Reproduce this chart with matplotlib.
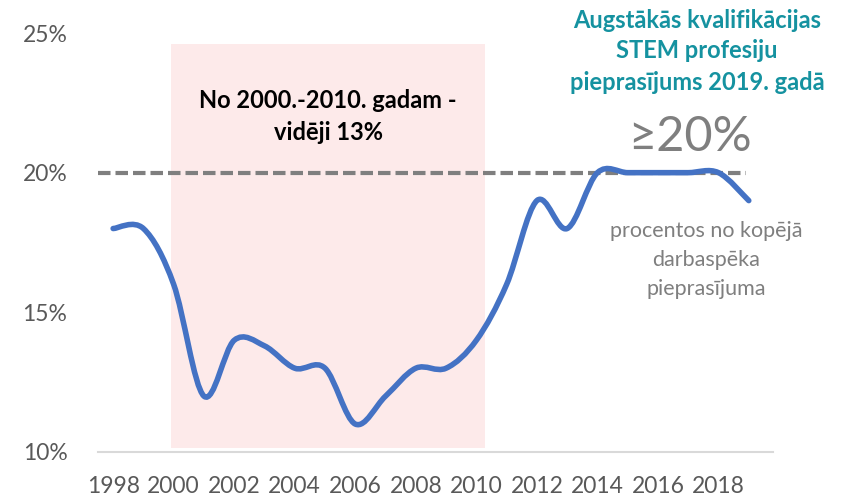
import numpy as np
import matplotlib.pyplot as plt
from matplotlib.path import Path
from matplotlib.patches import PathPatch, Rectangle

plt.rcParams['font.family'] = ['Lato', 'DejaVu Sans']

# dati
years = np.arange(1998, 2020)
share = np.array([18, 18, 16, 12, 14, 13.8, 13, 13, 11, 12, 13,
                  13, 14, 16, 19, 18, 20, 20, 20, 20, 20, 19])
ytick_vals = [10, 15, 20, 25]
ytick_labels = ['10%', '15%', '20%', '25%']
xtick_vals = list(range(1998, 2019, 2))
title_lines = ['Augstākās kvalifikācijas', 'STEM profesiju', 'pieprasījums 2019. gadā']
note_lines = ['procentos no kopējā', 'darbaspēka', 'pieprasījuma']

W, H = 848, 500
fig = plt.figure(figsize=(W / 100, H / 100), dpi=100)
ax = fig.add_axes([98 / W, 48 / H, (773 - 98) / W, (467 - 48) / H])
ax.set_xlim(1997.5, 2019.8)
ax.set_ylim(10, 25)

# fona taisnstūris 2000-2010
ax.add_patch(Rectangle((1999.9, 10.15), 10.4, 14.45, facecolor='#fdeaea',
                       edgecolor='none', zorder=0))

# 20% līnija
ax.plot([1997.5, 2018.9], [20, 20], color='#7f7f7f', lw=3,
        dashes=(3, 1.2), zorder=2, solid_capstyle='butt')

# gludināta līnija (Bezier kā Excel)
pts = np.column_stack([years, share]).astype(float)
verts = [pts[0]]
codes = [Path.MOVETO]
n = len(pts)
for i in range(n - 1):
    p0 = pts[max(i - 1, 0)]
    p1 = pts[i]
    p2 = pts[i + 1]
    p3 = pts[min(i + 2, n - 1)]
    c1 = p1 + (p2 - p0) / 6
    c2 = p2 - (p3 - p1) / 6
    verts += [c1, c2, p2]
    codes += [Path.CURVE4] * 3
ax.add_patch(PathPatch(Path(verts, codes), facecolor='none', edgecolor='#4472c4',
                       lw=4, capstyle='round', joinstyle='round', zorder=3))

for s in ['top', 'right', 'left']:
    ax.spines[s].set_visible(False)
ax.spines['bottom'].set_color('#d9d9d9')
ax.spines['bottom'].set_linewidth(1.5)
ax.spines['bottom'].set_zorder(1)

ax.set_yticks(ytick_vals)
ax.set_yticklabels(ytick_labels)
ax.set_xticks(xtick_vals)
ax.set_xticklabels([str(y) for y in xtick_vals])
ax.tick_params(length=0, labelsize=16.5, labelcolor='#595959')
ax.tick_params(axis='y', pad=22)
ax.tick_params(axis='x', pad=17)

def px(x, y):
    return x / W, 1 - y / H

for i, t in enumerate(title_lines):
    fig.text(*px(697, 20 + i * 31), t, ha='center', va='center', fontsize=17,
             fontweight='bold', color='#1592a0')

fig.text(*px(328, 101), 'No 2000.-2010. gadam -', ha='center', va='center',
         fontsize=17, fontweight='bold', color='black')
fig.text(*px(328, 132), 'vidēji 13%', ha='center', va='center',
         fontsize=17, fontweight='bold', color='black')

fig.text(*px(690, 137), '≥20%', ha='center', va='center', fontsize=35,
         color='#7f7f7f')

for i, t in enumerate(note_lines):
    fig.text(*px(706, 231 + i * 29), t, ha='center', va='center', fontsize=15.5,
             color='#7f7f7f')

fig.savefig('out.png', dpi=100)
